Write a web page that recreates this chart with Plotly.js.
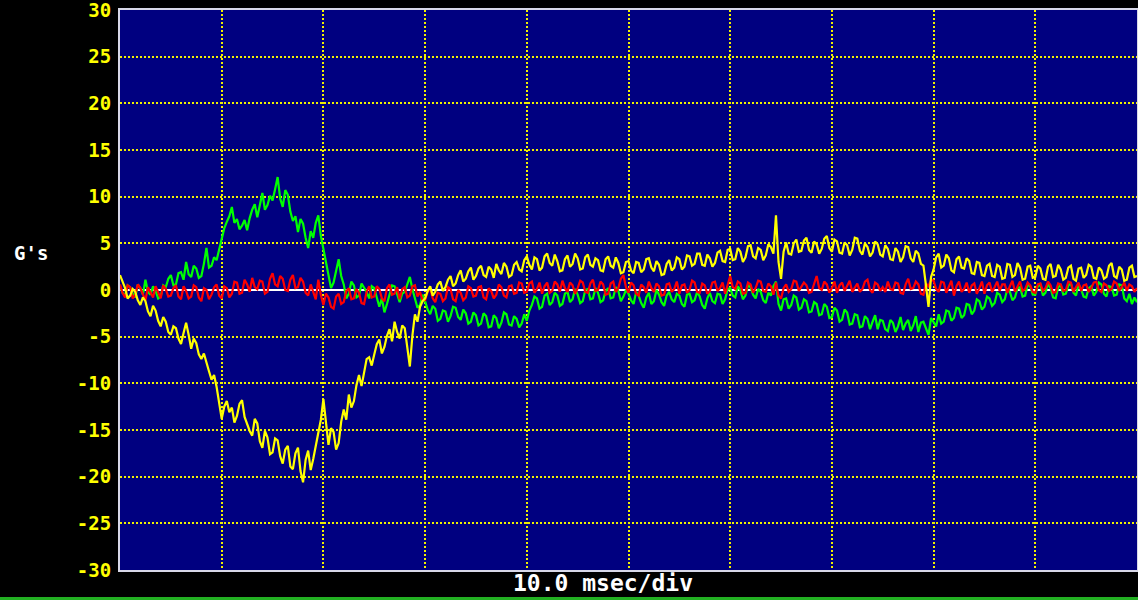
<!DOCTYPE html>
<html>
<head>
<meta charset="utf-8">
<script src="https://cdn.plot.ly/plotly-3.0.1.min.js"></script>
<style>
  html, body { margin: 0; padding: 0; background: #000; }
  #chart { width: 1138px; height: 600px; }
</style>
</head>
<body>
<div id="chart"></div>
<script>
// Sample interval 0.25 msec, 0..100 msec (10.0 msec/div, 10 divisions)
const sampleStepMs = 0.25;

const yellowG = [
  1.6, 0.9, 0.2, -0.9, -0.6, 0.1, -0.2, -1.1, -1.6, -0.8, -1.2, -2.3, -2.8, -1.7, -2.2, -3.3, -3.9, -2.9, -3.4, -4.5,
  -4.8, -3.9, -4.1, -5.2, -5.8, -4.6, -3.5, -4.8, -6.3, -5.2, -5.7, -6.9, -7.4, -6.8, -7.9, -8.7, -9.6, -9.1, -10.4, -12.1,
  -13.8, -12.5, -11.9, -13.1, -12.6, -14.2, -13.5, -12.2, -11.8, -13.6, -14.4, -15.1, -15.6, -13.8, -14.3, -16.2, -16.9, -15.1, -15.8, -17.6,
  -17.4, -15.9, -16.1, -17.8, -18.6, -17.1, -16.7, -18.9, -19.2, -17.5, -16.9, -19.4, -20.6, -18.2, -17.2, -19.3, -18.1, -16.6, -15.3, -13.9,
  -11.7, -14.2, -16.6, -14.8, -15.2, -17.1, -16.4, -14.1, -12.8, -13.9, -11.2, -12.6, -11.9, -10.2, -9.1, -10.3, -8.6, -7.4, -7.2, -8.1,
  -6.9, -5.8, -5.3, -6.8, -6.1, -4.9, -4.2, -5.5, -3.4, -4.5, -5.2, -3.8, -4.1, -6.3, -8.2, -4.9, -2.6, -3.4, -1.8, -1.2,
  -0.9, -0.1, 0.4, -0.6, -0.2, 0.6, 0.9, -0.1, 0.3, 1.1, 1.5, 0.4, 0.7, 1.6, 2.1, 0.9, 1.2, 2.0, 2.4, 1.1,
  1.5, 2.3, 2.6, 1.6, 1.4, 2.5, 2.2, 1.3, 2.8, 2.1, 1.7, 2.9, 2.5, 1.4, 1.6, 2.7, 3.0, 2.2, 2.0, 3.2,
  3.6, 2.7, 2.2, 3.5, 3.3, 2.1, 2.4, 3.6, 3.9, 2.9, 2.6, 3.8, 3.1, 2.0, 2.1, 3.3, 3.7, 2.5, 2.8, 3.9,
  3.4, 2.2, 2.3, 3.5, 3.8, 2.7, 2.5, 3.4, 3.2, 2.1, 2.0, 3.3, 3.6, 2.6, 2.4, 3.5, 2.9, 1.8, 1.9, 3.0,
  3.1, 2.1, 1.8, 3.0, 2.9, 1.9, 2.2, 3.3, 3.4, 2.4, 2.0, 3.1, 2.7, 1.6, 1.7, 2.8, 3.2, 2.1, 2.4, 3.5,
  3.3, 2.2, 2.5, 3.7, 3.6, 2.6, 2.8, 3.9, 3.9, 2.7, 2.6, 3.8, 3.4, 2.5, 2.9, 4.0, 4.2, 3.1, 3.0, 4.3,
  4.4, 3.2, 3.3, 4.5, 4.1, 3.0, 3.5, 4.7, 4.8, 3.6, 3.4, 4.5, 4.3, 3.2, 3.7, 4.9, 4.6, 3.9, 8.0, 3.0,
  1.2, 4.1, 5.1, 3.9, 3.8, 5.0, 5.4, 4.1, 4.2, 5.3, 5.6, 4.3, 4.0, 5.2, 4.9, 3.9, 4.4, 5.5, 5.8, 4.5,
  4.1, 5.4, 5.2, 4.0, 3.9, 5.1, 4.8, 3.7, 4.3, 5.6, 5.5, 4.2, 3.8, 5.0, 4.6, 3.6, 4.0, 5.2, 4.9, 3.8,
  3.6, 4.8, 4.4, 3.3, 3.2, 4.5, 4.1, 3.0, 3.5, 4.7, 4.6, 3.4, 3.0, 4.2, 3.9, 2.8, 2.6, 0.5, -1.8, 1.4,
  2.2, 3.5, 3.9, 2.4, 2.6, 3.8, 3.4, 2.1, 1.9, 3.3, 3.6, 2.4, 2.3, 3.4, 3.1, 1.8, 1.7, 3.0, 2.9, 1.6,
  1.5, 2.6, 2.8, 1.5, 1.4, 2.7, 2.5, 1.2, 1.3, 2.8, 2.7, 1.4, 1.6, 2.9, 2.4, 1.1, 1.2, 2.5, 2.6, 1.3,
  1.4, 2.6, 2.3, 1.2, 1.1, 2.5, 2.8, 1.4, 1.5, 2.7, 2.2, 1.1, 1.3, 2.4, 2.6, 1.2, 1.0, 2.3, 2.4, 1.3,
  1.6, 2.7, 2.5, 1.3, 1.2, 2.4, 2.1, 1.2, 1.4, 2.6, 2.9, 1.5, 1.3, 2.5, 2.2, 1.0, 1.1, 2.4, 2.6, 1.4,
  1.5
];

const greenG = [
  0.4, -0.3, -0.6, 0.5, 0.3, -0.4, -0.8, 0.6, 0.2, -0.5, 1.1, -0.2, -0.5, 0.4, -0.1, -0.9, -0.7, 0.5, 0.3, 1.2,
  1.6, 0.5, 0.6, 1.8, 1.9, 1.1, 3.0, 1.7, 1.4, 2.6, 2.3, 1.3, 1.5, 2.8, 4.5, 2.4, 2.6, 3.5, 3.2, 4.4,
  5.4, 6.6, 7.3, 7.9, 8.9, 7.2, 7.6, 6.5, 6.9, 7.5, 6.4, 7.7, 8.6, 9.2, 7.8, 9.0, 10.4, 8.6, 9.1, 10.1,
  9.6, 10.8, 12.1, 9.8, 8.9, 10.7, 10.2, 8.4, 7.4, 7.9, 6.2, 7.6, 7.1, 5.6, 4.5, 6.3, 5.6, 7.2, 8.0, 5.8,
  4.4, 2.6, 1.4, 0.2, 0.8, 2.1, 3.3, 1.5, 0.6, -0.9, -0.4, 0.9, 0.5, -0.8, -0.6, 0.7, 0.3, -0.2, -0.9, 0.4,
  0.2, -0.7, -1.8, -0.9, -2.4, -1.5, -0.6, 0.5, 0.4, -0.6, -1.3, -0.4, -0.2, 0.6, 1.4, 0.1, -0.8, -1.9, -1.6, -0.5,
  -1.2, -2.1, -2.6, -1.7, -2.0, -3.3, -3.1, -2.2, -2.3, -3.4, -2.8, -1.8, -1.9, -2.9, -3.2, -2.1, -2.5, -3.6, -3.4, -2.4,
  -2.7, -3.8, -3.6, -2.5, -2.8, -4.0, -3.9, -2.7, -3.0, -4.1, -3.5, -2.4, -2.6, -3.7, -3.8, -2.8, -3.1, -4.0, -3.6, -2.6,
  -3.3, -2.2, -1.6, -0.7, -0.9, -2.0, -1.8, -0.6, -0.4, -1.6, -1.3, -0.3, -0.6, -1.7, -1.5, -0.4, -0.2, -1.3, -1.0, 0.1,
  -0.5, -1.4, -1.2, 0.0, 0.1, -1.0, -0.9, 0.2, -0.3, -1.3, -1.1, -0.1, 0.2, -0.9, -0.8, 0.3, -0.1, -1.2, -0.7, 0.0,
  -0.4, -1.1, -1.5, -0.2, -0.6, -1.4, -1.9, -0.8, -0.3, -1.5, -1.2, 0.0, -0.5, -1.3, -1.7, -0.6, -0.2, -1.0, -1.3, -0.4,
  -0.6, -1.5, -1.8, -0.5, -0.4, -1.3, -1.1, -0.2, -0.7, -1.6, -2.0, -0.9, -0.3, -1.2, -1.4, -0.4, -0.5, -1.5, -1.0, 0.1,
  0.2, -0.6, -0.8, 0.4, 0.0, -1.0, -0.6, 0.5, 0.3, -0.5, -0.9, 0.1, -0.2, -1.1, -1.4, -0.3, -0.6, 0.4, 0.9, -1.5,
  -2.2, -1.0, -0.9, -2.0, -1.6, -0.6, -0.8, -2.1, -1.9, -1.0, -1.2, -2.4, -2.3, -1.3, -1.5, -2.7, -2.6, -1.5, -1.8, -3.0,
  -2.9, -1.9, -2.2, -3.4, -3.2, -2.1, -2.4, -3.7, -3.6, -2.6, -2.7, -4.0, -3.9, -2.8, -3.1, -4.2, -3.4, -2.7, -4.2, -3.2,
  -3.3, -4.2, -4.4, -3.2, -3.5, -4.5, -3.9, -2.9, -4.3, -3.6, -3.2, -4.4, -3.8, -2.8, -4.5, -3.5, -3.4, -4.2, -4.8, -3.0,
  -3.5, -3.9, -2.6, -3.6, -3.4, -2.2, -2.3, -3.3, -3.0, -1.9, -2.0, -3.0, -2.7, -1.5, -1.6, -2.6, -2.2, -1.0, -1.2, -2.1,
  -1.8, -0.7, -0.9, -1.7, -1.4, -0.3, -0.5, -1.3, -1.0, 0.1, -0.2, -1.1, -0.8, 0.2, 0.3, -0.7, -0.6, 0.6, 0.4, -0.5,
  -0.5, 0.4, 0.6, -0.6, -0.3, 0.7, 0.2, -0.8, -0.9, 0.3, 0.5, -0.5, -0.4, 0.5, 0.7, -0.3, -0.6, 0.6, 0.1, -0.7,
  -0.8, 0.2, 0.4, -0.6, -0.2, 0.8, 0.6, -0.4, -0.7, 0.4, 0.3, -0.6, -0.5, 0.6, 0.5, -0.9, -1.2, -0.4, -1.5, -0.8,
  -1.3
];

const redG = [
  0.6, -0.3, -0.8, 0.5, 0.3, -0.9, -0.5, 0.6, 0.2, -0.4, -1.1, 0.3, -0.2, -0.8, 0.4, -0.3, -0.9, 0.5, 0.1, -0.7,
  -0.6, 0.2, 0.5, -0.7, -1.0, 0.4, -0.1, -0.9, -0.7, 0.5, 0.3, -0.8, -1.2, 0.2, 0.0, -1.0, -0.5, 0.3, 0.6, -0.6,
  -0.9, 0.4, 0.2, -0.8, -0.4, 0.9, 0.8, -0.4, -0.3, 1.1, 0.6, -0.2, 1.3, 0.3, 0.1, 1.0, 0.9, -0.4, -0.2, 1.2,
  1.8, 0.6, 0.4, 1.5, 1.2, 0.0, -0.1, 1.1, 1.6, 0.2, 0.3, 1.3, 0.9, -0.3, -0.6, 0.6, -0.2, -1.0, 1.1, -0.5,
  -1.6, -0.4, -0.8, -1.8, -2.0, -0.7, -0.4, -1.5, -1.3, -0.1, 0.2, -1.0, -0.9, 0.1, -0.3, -1.4, -1.5, -0.2, 0.4, -0.8,
  -0.7, 0.4, 0.1, -0.9, -1.2, 0.2, 0.6, -0.5, -0.4, 0.3, -1.0, 0.1, 0.3, -0.8, -0.6, 0.4, 0.5, -0.7, -0.2, -1.1,
  -1.1, -0.2, 0.2, -0.9, -1.3, -0.3, -0.4, -1.2, -0.9, 0.3, 0.1, -1.0, -1.2, 0.0, -0.3, -1.1, -0.8, 0.4, 0.2, -0.7,
  -0.6, 0.3, 0.4, -0.8, -1.0, 0.2, -0.1, -0.9, -0.5, 0.6, 0.3, -0.6, -0.8, 0.4, 0.5, -0.4, -0.3, 0.8, 0.7, -0.3,
  -0.2, 0.7, 0.9, -0.3, 0.1, 0.8, -0.4, 0.4, 0.8, -0.3, -0.1, 0.9, 0.6, -0.2, 1.0, 0.2, -0.2, 0.8, 0.5, -0.4,
  0.2, 1.0, 0.8, -0.2, -0.3, 0.7, 1.1, -0.1, 0.0, 0.9, 0.6, -0.5, -0.4, 0.7, 0.9, -0.2, 0.2, 1.2, 1.6, 0.3,
  -0.3, 0.8, 0.5, -0.4, -0.6, 0.6, 0.3, -0.3, 0.9, 0.2, -0.2, 0.7, 0.4, -0.6, -0.5, 0.6, 0.7, -0.2, 0.1, 0.9,
  -0.4, 0.5, 0.6, -0.3, 0.0, 1.0, 0.8, -0.2, -0.3, 0.7, 0.5, -0.4, -0.1, 0.8, 0.9, -0.1, 0.2, 0.8, -0.4, 0.6,
  1.5, 0.3, 0.1, 0.9, 0.7, -0.4, -0.3, 0.8, 0.6, -0.3, 0.2, 1.0, 0.9, -0.1, -0.2, 0.7, 0.4, -0.5, 0.8, -0.6,
  -0.9, 0.2, 0.6, -0.2, 0.1, 1.0, 0.9, -0.1, 0.3, 0.8, 0.5, -0.3, -0.2, 0.7, 1.5, 0.2, 0.0, 0.9, 0.6, -0.3,
  0.2, 0.9, -0.3, 0.5, 0.8, -0.1, 0.4, 1.0, -0.2, 0.3, 0.7, -0.2, 0.1, 0.9, 1.1, 0.0, -0.3, 0.8, 0.6, -0.1,
  0.3, -0.2, 0.9, 0.1, 0.0, 0.8, 0.7, -0.3, -0.4, 0.6, 1.2, 0.1, 0.2, 0.9, 0.6, -0.4, -0.5, 0.7, 0.4, 1.1,
  1.0, 0.1, -0.2, 0.9, 0.8, -0.3, 0.3, 1.0, -0.6, 0.4, 0.9, -0.2, 0.1, 0.8, -0.3, 0.5, 0.7, -0.4, 0.2, 0.9,
  -0.4, 0.5, 0.8, -0.2, 0.3, 0.9, -0.1, 0.6, 0.6, -0.3, 0.4, 1.0, -0.2, 0.3, 0.9, -0.1, 0.1, 0.8, 0.5, -0.2,
  -0.3, 0.6, 0.7, -0.1, 0.2, 0.9, 0.5, -0.3, -0.2, 0.7, 0.6, -0.1, 0.0, 0.9, 0.8, -0.2, 0.3, 0.8, -0.1, 0.5,
  0.6, -0.2, 0.2, 0.8, 0.9, 0.0, -0.2, 0.7, 0.5, -0.1, 0.1, 0.9, 0.7, -0.1, 0.3, 0.8, -0.1, 0.6, 0.4, -0.2,
  0.2
];

const yTickVals = [-30, -25, -20, -15, -10, -5, 0, 5, 10, 15, 20, 25, 30];
const yTickText = ["-30", "-25", "-20", "-15", "-10", "-5", "0", "5", "10", "15", "20", "25", "30"];

const timeMs = yellowG.map((_, i) => i * sampleStepMs);

function trace(vals, color) {
  return {
    x: timeMs, y: vals, type: 'scatter', mode: 'lines',
    line: { color: color, width: 2.2 }, hoverinfo: 'skip', showlegend: false
  };
}

const data = [
  trace(greenG, '#00ff00'),
  trace(redG, '#ff0000'),
  trace(yellowG, '#ffff00')
];

const monoFont = '"DejaVu Sans Mono", "Liberation Mono", monospace';

const layout = {
  width: 1138, height: 600,
  paper_bgcolor: '#000000',
  plot_bgcolor: '#000080',
  margin: { l: 120, r: 1, t: 10, b: 30, pad: 0 },
  showlegend: false,
  xaxis: {
    range: [0, 100], dtick: 10, tick0: 0,
    showticklabels: false, ticks: '',
    showgrid: true, gridcolor: '#f0f000', griddash: '2px,2px', gridwidth: 2,
    zeroline: false,
    showline: true, linecolor: '#d8d8e8', linewidth: 2, mirror: true,
    fixedrange: true
  },
  yaxis: {
    range: [-30, 30],
    tickmode: 'array', tickvals: yTickVals, ticktext: yTickText,
    ticks: '', ticklabelstandoff: 3, ticklabeloverflow: 'allow',
    tickfont: { family: monoFont, size: 19, color: '#ffff00', weight: 'bold' },
    showgrid: true, gridcolor: '#f0f000', griddash: '2px,2px', gridwidth: 2,
    zeroline: true, zerolinecolor: '#ffffff', zerolinewidth: 2,
    showline: true, linecolor: '#d8d8e8', linewidth: 2, mirror: true,
    fixedrange: true
  },
  annotations: [
    {
      text: "G's", xref: 'paper', yref: 'paper',
      x: (31 - 120) / 1017, y: (570 - 253) / 560,
      xanchor: 'center', yanchor: 'middle', showarrow: false,
      font: { family: monoFont, size: 19, color: '#ffffff', weight: 'bold' }
    },
    {
      text: "10.0 msec/div", xref: 'paper', yref: 'paper',
      x: (603 - 120) / 1017, y: (570 - 583) / 560,
      xanchor: 'center', yanchor: 'middle', showarrow: false,
      font: { family: monoFont, size: 23, color: '#ffffff', weight: 'bold' }
    }
  ],
  shapes: [
    {
      type: 'line', xref: 'paper', yref: 'paper',
      x0: -120 / 1017, x1: 1018 / 1017,
      y0: (570 - 598.5) / 560, y1: (570 - 598.5) / 560,
      line: { color: '#22b022', width: 3 }
    }
  ]
};

Plotly.newPlot('chart', data, layout, { staticPlot: true, displayModeBar: false });
</script>
</body>
</html>
